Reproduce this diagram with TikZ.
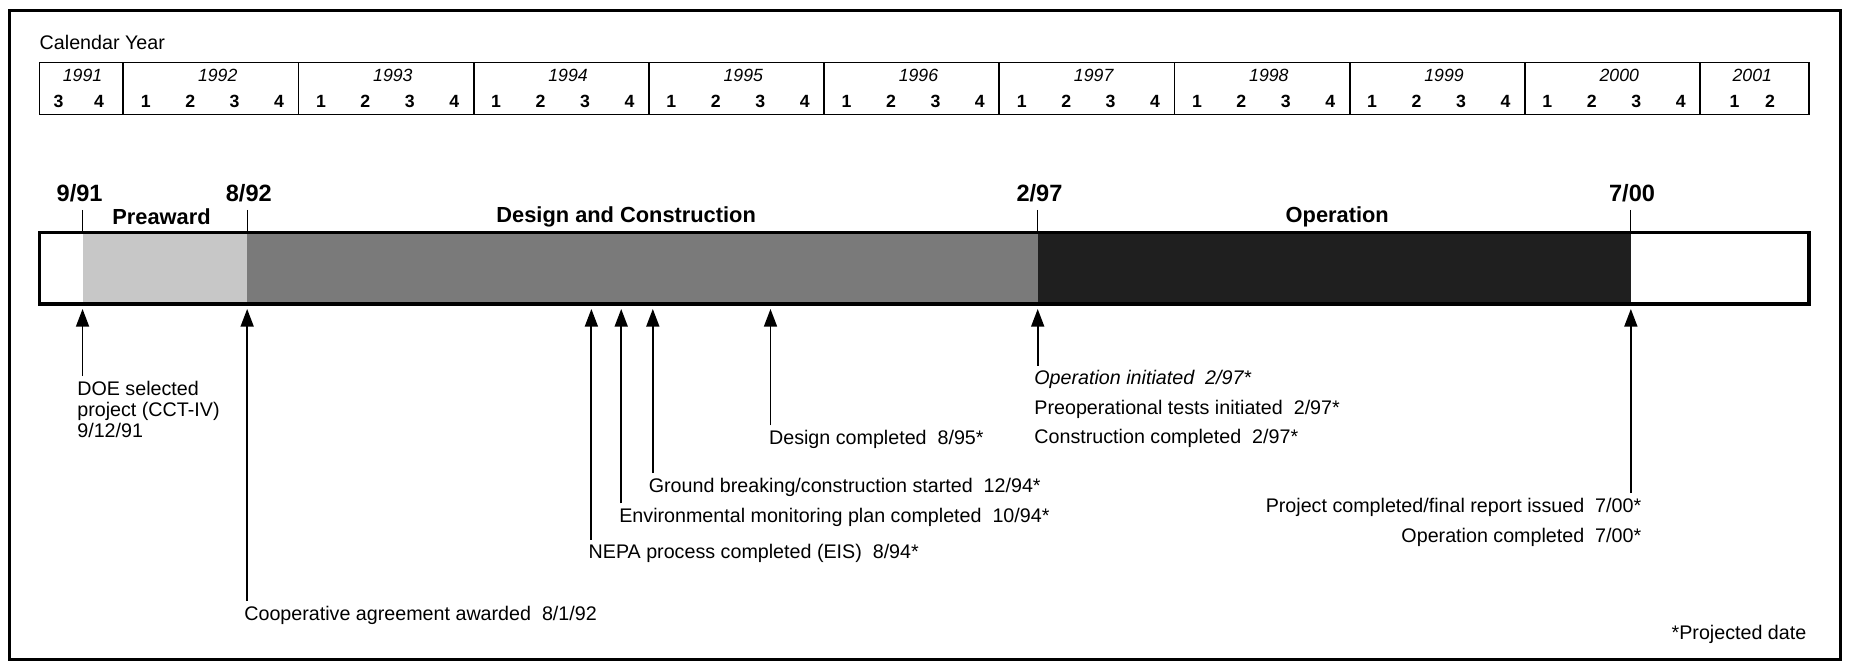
\documentclass[tikz,border=0pt]{standalone}
\usepackage{fontspec}
\setmainfont{Liberation Sans}
\usetikzlibrary{arrows.meta}
\begin{document}
\begin{tikzpicture}[x=1pt,y=-1pt,
  lbl/.style={inner sep=0pt, font=\fontsize{16.7}{18}\selectfont, text height=12pt, text depth=0pt},
  mlbl/.style={inner sep=0pt, font=\fontsize{16.7}{18}\selectfont, align=left},
  qtr/.style={inner sep=0pt, font=\fontsize{15}{16}\selectfont\bfseries},
  yr/.style={inner sep=0pt, font=\fontsize{15}{16}\selectfont\itshape},
  datelbl/.style={inner sep=0pt, font=\fontsize{20}{22}\selectfont\bfseries},
  phase/.style={inner sep=0pt, font=\fontsize{18.5}{20}\selectfont\bfseries},
  arr/.style={line width=1.5pt, -{Triangle[length=15pt,width=11pt]}, shorten >=4pt},
  tickline/.style={line width=1pt},
  tbl/.style={line width=1.5pt},
]
\useasboundingbox (0,0) rectangle (1568,566);
% frame
\draw[line width=2.4pt] (8,9) rectangle (1561,559);
% calendar header
\node[lbl, anchor=west] (cal) at (33.5,36) {Calendar Year};
\draw[tbl] (33.5,53) rectangle (1534,97);
\foreach \i in {0,...,9} \draw[tbl] ({104.6+\i*148.57},53) -- ({104.6+\i*148.57},97);
\node[yr] (y1991) at (70,64) {1991};
\node[qtr] (q19913) at (49.6,86) {3};
\node[qtr] (q19914) at (84,86) {4};
\foreach \yy [count=\i from 0] in {1992,...,2000}{
  \node[yr] (y\yy) at ({104.6+\i*148.57+80},64) {\yy};
  \foreach \q in {1,...,4}{
    \node[qtr] (q\yy\q) at ({104.6+\i*148.57+19+(\q-1)*37.7},86) {\q};
  }
}
\node[yr] (y2001) at (1486,64) {2001};
\node[qtr] (q20011) at (1471,86) {1};
\node[qtr] (q20012) at (1501,86) {2};
% bar
\fill[black!22] (70,197) rectangle (209.6,258);
\fill[black!52] (209.6,197) rectangle (880,258);
\fill[black!88] (880,197) rectangle (1383,258);
\draw[line width=3pt] (33.5,197) rectangle (1534,258);
% ticks and phase dates
\coordinate (t1) at (70,197);   \coordinate (u1) at (70,178);
\coordinate (t2) at (209.6,197); \coordinate (u2) at (209.6,178);
\coordinate (t3) at (880,197);  \coordinate (u3) at (880,178);
\coordinate (t4) at (1383,197); \coordinate (u4) at (1383,178);
\draw[tickline] (u1) -- (t1);
\draw[tickline] (u2) -- (t2);
\draw[tickline] (u3) -- (t3);
\draw[tickline] (u4) -- (t4);
\node[datelbl] (d1) at (67.5,164) {9/91};
\node[datelbl] (d2) at (211,164) {8/92};
\node[datelbl] (d3) at (881.5,164) {2/97};
\node[datelbl] (d4) at (1384,164) {7/00};
\node[phase] (p1) at (137,184) {Preaward};
\node[phase] (p2) at (531,184) {Design and Construction};
\node[phase] (p3) at (1134,184) {Operation};
% milestones on bar bottom
\coordinate (m1) at (70,258);
\coordinate (m2) at (209.6,258);
\coordinate (m3) at (501.5,258);
\coordinate (m4) at (526.8,258);
\coordinate (m5) at (553.6,258);
\coordinate (m6) at (653.4,258);
\coordinate (m7) at (880,258);
\coordinate (m8) at (1383,258);
% labels
\node[mlbl, anchor=north west] (doe) at (65.4,323) {DOE selected\\project (CCT-IV)\\9/12/91};
\node[lbl, anchor=west] (coop) at (207,520) {Cooperative agreement awarded~ 8/1/92};
\node[lbl, anchor=west] (nepa) at (499,468) {NEPA process completed (EIS)~ 8/94*};
\node[lbl, anchor=west] (env) at (525,437) {Environmental monitoring plan completed~ 10/94*};
\node[lbl, anchor=west] (grd) at (550,411.4) {Ground breaking/construction started~ 12/94*};
\node[lbl, anchor=west] (des) at (652,371) {Design completed~ 8/95*};
\node[lbl, anchor=west] (opi) at (877,320.3) {\itshape Operation initiated~ 2/97*};
\node[lbl, anchor=west] (pre) at (877,345.5) {Preoperational tests initiated~ 2/97*};
\node[lbl, anchor=west] (con) at (877,370.3) {Construction completed~ 2/97*};
\node[lbl, anchor=east] (prj) at (1392,428.3) {Project completed/final report issued~ 7/00*};
\node[lbl, anchor=east] (opc) at (1392,453.7) {Operation completed~ 7/00*};
\node[lbl, anchor=east] (note) at (1532,536.6) {*Projected date};
% arrows
\draw[arr] ([yshift=4pt]doe.north -| m1) -- (m1);
\draw[arr] ([yshift=4pt]coop.north -| m2) -- (m2);
\draw[arr] ([yshift=4pt]nepa.north -| m3) -- (m3);
\draw[arr] ([yshift=4pt]env.north -| m4) -- (m4);
\draw[arr] ([yshift=4pt]grd.north -| m5) -- (m5);
\draw[arr] ([yshift=4pt]des.north -| m6) -- (m6);
\draw[arr] ([yshift=4pt]opi.north -| m7) -- (m7);
\draw[arr] ([yshift=4pt]prj.north -| m8) -- (m8);
\end{tikzpicture}
\end{document}
